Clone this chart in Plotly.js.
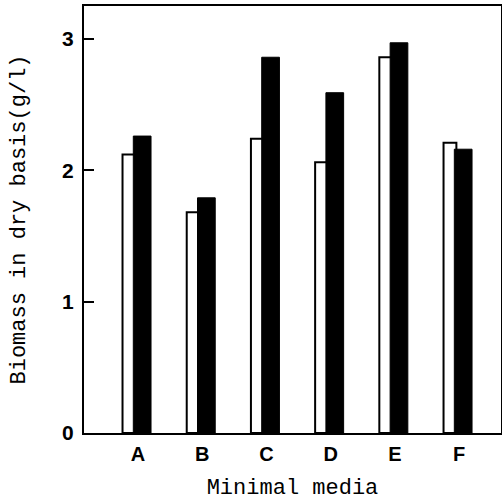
<!DOCTYPE html>
<html>
<head>
<meta charset="utf-8">
<script src="https://cdn.plot.ly/plotly-3.0.1.min.js"></script>
<style>html,body{margin:0;padding:0;background:#fff;}#chart{width:502px;height:501px;}</style>
</head>
<body>
<div id="chart"></div>
<script>
var categories = ["A", "B", "C", "D", "E", "F"];
var whiteValues = [2.12, 1.68, 2.24, 2.06, 2.86, 2.21];
var blackValues = [2.26, 1.79, 2.86, 2.59, 2.97, 2.16];
var yTickVals = [0, 1, 2, 3];
var yTickText = ["0", "1", "2", "3"];

var traceWhite = {
  type: "bar", x: categories, y: whiteValues,
  offset: -0.241, width: 0.2,
  marker: {color: "#ffffff", line: {color: "#000000", width: 2}},
  hoverinfo: "skip", showlegend: false
};
var traceBlack = {
  type: "bar", x: categories, y: blackValues,
  offset: -0.073, width: 0.276,
  marker: {color: "#000000", line: {color: "#000000", width: 1}},
  hoverinfo: "skip", showlegend: false
};

var layout = {
  width: 502, height: 501,
  margin: {l: 84, r: 1, t: 6, b: 68},
  paper_bgcolor: "#ffffff", plot_bgcolor: "#ffffff",
  barmode: "overlay",
  showlegend: false,
  xaxis: {
    type: "category",
    range: [-0.841, 5.654],
    showgrid: false, zeroline: false,
    showline: true, linecolor: "#000000", linewidth: 2, mirror: true,
    ticks: "",
    ticklabelstandoff: 2,
    tickfont: {family: "Liberation Sans, Arial, sans-serif", size: 20, color: "#000000", weight: "bold"},
    title: {text: "Minimal media", standoff: 18,
      font: {family: "Liberation Mono, Courier New, monospace", size: 22, color: "#000000"}}
  },
  yaxis: {
    range: [0, 3.25],
    showgrid: false, zeroline: false,
    showline: true, linecolor: "#000000", linewidth: 2, mirror: true,
    ticks: "inside", ticklen: 10, tickwidth: 2, tickcolor: "#000000",
    tickvals: yTickVals, ticktext: yTickText,
    ticklabelstandoff: 4,
    tickfont: {family: "Liberation Sans, Arial, sans-serif", size: 21, color: "#000000", weight: "bold"},
    title: {text: "Biomass in dry basis(g/l)", standoff: 30,
      font: {family: "Liberation Mono, Courier New, monospace", size: 22, color: "#000000"}}
  }
};

Plotly.newPlot("chart", [traceWhite, traceBlack], layout, {displayModeBar: false, staticPlot: true});
</script>
</body>
</html>
